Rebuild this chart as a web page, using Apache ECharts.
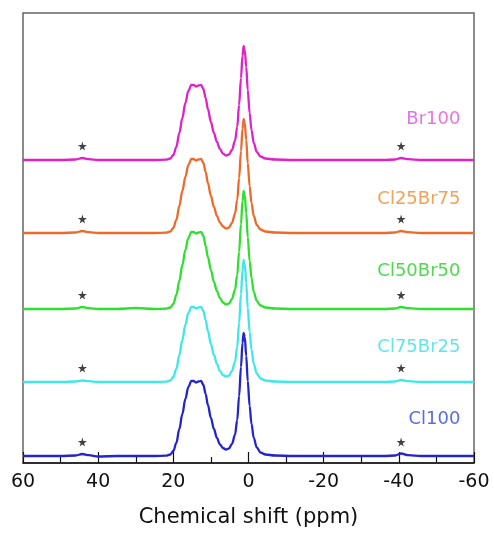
<!DOCTYPE html>
<html>
<head>
<meta charset="utf-8">
<script src="https://cdn.jsdelivr.net/npm/echarts@6/dist/echarts.min.js"></script>
<style>
html,body{margin:0;padding:0;background:#fff;}
#chart{width:494px;height:536px;}
</style>
</head>
<body>
<div id="chart"></div>
<script>
// Chemical shift grid (ppm)
const ppm = [60, 55, 50, 46, 44.2, 42.5, 40, 35, 30, 25, 22, 20.8, 20, 19.2, 18.4, 17.6, 16.8, 16, 15.2, 14.6, 14.0, 13.3, 12.6, 12.0, 11.4, 10.8, 10.0, 9.2, 8.4, 7.6, 6.8, 6.0, 5.2, 4.4, 3.6, 3.0, 2.5, 2.0, 1.6, 1.3, 1.0, 0.6, 0.2, -0.3, -0.8, -1.4, -2.2, -3.2, -4.5, -7, -12, -20, -30, -36, -39, -40.6, -42.5, -46, -52, -60];

// Intensities (above each trace's own baseline)
const br100 = [0, 0, 0, 0.5, 2, 0.8, 0, 0, 0, 0, 0.3, 1.5, 5, 13, 27, 42, 57, 69, 75, 75, 73.5, 74.5, 75, 71, 62, 51, 38, 27, 18, 11, 6.5, 4.5, 5.5, 10, 19, 33, 55, 82, 104, 114, 110, 93, 70, 47, 30, 17, 8, 3.5, 1.5, 0.5, 0, 0, 0, 0, 0.5, 2, 0.8, 0, 0, 0];
const cl25br75 = [0, 0, 0, 0.5, 2, 0.8, 0, 0, 0, 0, 0.3, 1.5, 5, 13, 27, 42, 56, 68, 74, 74, 72.5, 73.5, 74, 70, 61, 50, 37, 26, 17, 10.5, 6.5, 4.5, 5.5, 10, 19, 33, 55, 82, 104, 114, 110, 93, 70, 47, 30, 17, 8, 3.5, 1.5, 0.5, 0, 0, 0, 0, 0.5, 2, 0.8, 0, 0, 0];
const cl50br50 = [0, 0, 0, 0.5, 2, 0.8, 0, 0, 1, 0, 0.3, 1.5, 5, 14, 28, 44, 59, 71, 77, 77, 75.5, 76.5, 77, 73, 63, 52, 39, 27, 18, 11, 6.5, 4.5, 5.5, 10, 19, 34, 57, 85, 108, 118, 114, 96, 72, 48, 31, 17, 8, 3.5, 1.5, 0.5, 0, 0, 0, 0, 0.5, 2, 0.8, 0, 0, 0];
const cl75br25 = [0, 0, 0, 0.5, 1.5, 0.8, 0, 0, 0, 0, 0.3, 1.5, 5, 13, 27, 42, 57, 69, 75, 75, 73.5, 74.5, 75, 71, 62, 51, 38, 27, 18, 11, 7, 5.5, 6.5, 11, 20, 35, 59, 88, 112, 122, 118, 99, 74, 50, 32, 18, 8.5, 3.5, 1.5, 0.5, 0, 0, 0, 0, 0.5, 2, 0.8, 0, 0, 0];
const cl100 = [0, 0, 0, 0.5, 2, 0.8, -0.5, 0, 0, 0, 0.3, 1.5, 5, 13, 27, 42, 57, 69, 75, 75, 73.5, 74.5, 75, 71, 62, 51, 38, 27, 18, 11.5, 8, 6.5, 7.5, 12, 21, 36, 60, 89, 113, 123, 119, 100, 75, 50, 32, 18, 8.5, 3.5, 1.5, 0.5, 0, 0, 0, 0, 0.5, 2.5, 0.8, 0, 0, 0];

const sampleNames = ['Br100', 'Cl25Br75', 'Cl50Br50', 'Cl75Br25', 'Cl100'];
const sampleData = [br100, cl25br75, cl50br50, cl75br25, cl100];
const baselines = [303, 230, 154, 81, 7];          // vertical stacking offsets
const starPpm = [44.2, -40.6];                      // spinning sidebands
const starHeight = 14;
const labelPpm = -56.4;
const labelHeights = [41, 34, 38, 35, 37];
const xTicks = [60, 40, 20, 0, -20, -40, -60];

const lineColors = ['#e020c8', '#ee6a2a', '#2ee02e', '#3ee8ea', '#2424cc'];
const labelColors = ['#e050e0', '#f08a2c', '#22d022', '#36e0e6', '#2c48d8'];

const FONT = 'DejaVu Sans';

const series = [];
sampleNames.forEach((name, i) => {
  const off = baselines[i];
  series.push({
    name: name,
    type: 'line',
    data: ppm.map((x, k) => [x, sampleData[i][k] + off]),
    smooth: 0.35,
    smoothMonotone: 'x',
    showSymbol: false,
    lineStyle: { color: lineColors[i], width: 2.3 },
    z: 3
  });
  series.push({
    type: 'scatter',
    data: starPpm.map(x => [x, off + starHeight]),
    symbol: 'path://M50,0 L61,35 L98,35 L68,57 L79,91 L50,70 L21,91 L32,57 L2,35 L39,35 Z',
    symbolSize: 9,
    itemStyle: { color: '#111' },
    z: 4
  });
  series.push({
    type: 'scatter',
    data: [[labelPpm, off + labelHeights[i]]],
    symbolSize: 0,
    label: {
      show: true, position: 'left', distance: 0,
      formatter: name, color: labelColors[i],
      fontFamily: FONT, fontSize: 18
    },
    z: 5
  });
});

const chart = echarts.init(document.getElementById('chart'), null, { renderer: 'canvas' });
chart.setOption({
  animation: false,
  backgroundColor: '#fff',
  grid: { left: 23, right: 20, top: 13, bottom: 73, show: true, borderColor: '#666', borderWidth: 1.5 },
  xAxis: {
    type: 'value', inverse: true, min: -60, max: 60, interval: 20,
    axisLine: { show: true, onZero: false, lineStyle: { color: '#111', width: 1.5 } },
    axisTick: { show: true, inside: true, length: 11, lineStyle: { color: '#111', width: 1.2 } },
    minorTick: { show: true, splitNumber: 2, length: 6, lineStyle: { color: '#111', width: 1.2 } },
    splitLine: { show: false },
    axisLabel: {
      fontFamily: FONT, fontSize: 19, color: '#111', margin: 10,
      formatter: v => xTicks.includes(v) ? String(v) : ''
    },
    name: 'Chemical shift (ppm)', nameLocation: 'middle', nameGap: 44,
    nameTextStyle: { fontFamily: FONT, fontSize: 21, color: '#111' }
  },
  yAxis: { type: 'value', min: 0, max: 450, show: false },
  series: series
});
</script>
</body>
</html>
